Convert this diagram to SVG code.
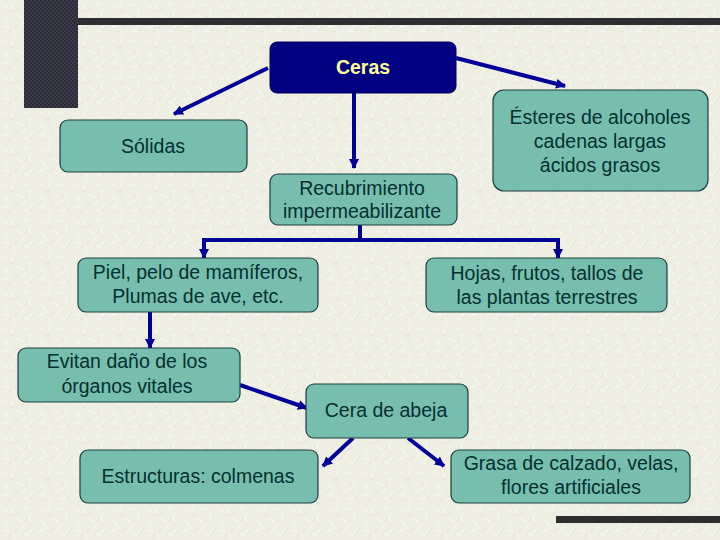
<svg xmlns="http://www.w3.org/2000/svg" width="720" height="540" viewBox="0 0 720 540">
  <defs>
    <pattern id="tex" width="36" height="36" patternUnits="userSpaceOnUse">
      <rect width="36" height="36" fill="#efeee3"/>
      <g stroke="#fbfbf6" stroke-width="1" opacity="0.9">
        <path d="M2,4 l6,3 M14,2 l-3,7 M22,6 l7,-2 M31,10 l-2,7 M5,16 l4,6 M16,14 l7,4 M26,20 l-6,5 M3,28 l7,-3 M13,30 l3,5 M24,30 l7,2 M33,24 l-4,6"/>
      </g>
      <g stroke="#dcdbcc" stroke-width="1" opacity="0.6">
        <path d="M9,10 l5,2 M28,14 l-3,4 M18,24 l-4,4 M6,33 l5,-2 M30,32 l3,-5"/>
      </g>
    </pattern>
    <pattern id="dots" width="4" height="4" patternUnits="userSpaceOnUse">
      <rect width="4" height="4" fill="#3c3c4a"/>
      <rect x="0" y="0" width="2" height="2" fill="#2a2a36"/>
      <rect x="2" y="2" width="2" height="2" fill="#2a2a36"/>
    </pattern>
    <marker id="ah" markerUnits="userSpaceOnUse" markerWidth="10" markerHeight="10" refX="9" refY="5" orient="auto">
      <path d="M0,0 L10,5 L0,10 z" fill="#000099"/>
    </marker>
    <style>
      .box { fill: #78beaf; stroke: #1c4040; stroke-width: 1.2; }
      .t { font-family: "Liberation Sans", Arial, sans-serif; font-size: 19.5px; fill: #033030; text-anchor: middle; }
      .c { fill: none; stroke: #000099; stroke-width: 4; marker-end: url(#ah); }
    </style>
  </defs>

  <rect width="720" height="540" fill="url(#tex)"/>
  <rect x="24" y="0" width="54" height="108" fill="url(#dots)"/>
  <rect x="78" y="18" width="642" height="7" fill="#2e2e30"/>
  <rect x="556" y="516" width="164" height="7" fill="#2e2e30"/>

  <g id="connectors">
    <path class="c" d="M268,68 L174,114"/>
    <path class="c" d="M456,58 L565,86"/>
    <path class="c" d="M354,93 L354,168"/>
    <path class="c" d="M360,225 V240 H204 V258" stroke-linejoin="miter"/>
    <path class="c" d="M360,225 V240 H558 V258" stroke-linejoin="miter"/>
    <path class="c" d="M150,312 L150,348"/>
    <path class="c" d="M240,385 L307,408"/>
    <path class="c" d="M353,438 L323,466"/>
    <path class="c" d="M408,438 L444,466"/>
  </g>

  <g id="ceras">
    <rect x="270" y="42" width="186" height="51" rx="7" fill="#000080" stroke="#000050" stroke-width="1"/>
    <text x="363" y="74" class="t" style="font-weight:bold;fill:#ffff99">Ceras</text>
  </g>
  <g id="solidas">
    <rect class="box" x="60" y="120" width="187" height="52" rx="8"/>
    <text x="153" y="153" class="t">Sólidas</text>
  </g>
  <g id="esteres">
    <rect class="box" x="493" y="90" width="215" height="101" rx="11"/>
    <text x="600" y="124" class="t">Ésteres de alcoholes</text>
    <text x="600" y="148" class="t">cadenas largas</text>
    <text x="600" y="172" class="t">ácidos grasos</text>
  </g>
  <g id="recubrimiento">
    <rect class="box" x="270" y="174" width="187" height="51" rx="8"/>
    <text x="362" y="195" class="t">Recubrimiento</text>
    <text x="362" y="218" class="t">impermeabilizante</text>
  </g>
  <g id="piel">
    <rect class="box" x="78" y="258" width="240" height="54" rx="8"/>
    <text x="198" y="279" class="t">Piel, pelo de mamíferos,</text>
    <text x="198" y="303" class="t">Plumas de ave, etc.</text>
  </g>
  <g id="hojas">
    <rect class="box" x="426" y="258" width="241" height="54" rx="8"/>
    <text x="547" y="280" class="t">Hojas, frutos, tallos de</text>
    <text x="547" y="304" class="t">las plantas terrestres</text>
  </g>
  <g id="evitan">
    <rect class="box" x="18" y="348" width="222" height="54" rx="8"/>
    <text x="127" y="368" class="t">Evitan daño de los</text>
    <text x="127" y="393" class="t">órganos vitales</text>
  </g>
  <g id="cera-abeja">
    <rect class="box" x="306" y="384" width="162" height="54" rx="8"/>
    <text x="386" y="417" class="t">Cera de abeja</text>
  </g>
  <g id="estructuras">
    <rect class="box" x="80" y="450" width="238" height="53" rx="8"/>
    <text x="198" y="483" class="t">Estructuras: colmenas</text>
  </g>
  <g id="grasa">
    <rect class="box" x="451" y="450" width="239" height="53" rx="8"/>
    <text x="571" y="470" class="t">Grasa de calzado, velas,</text>
    <text x="571" y="494" class="t">flores artificiales</text>
  </g>
</svg>
